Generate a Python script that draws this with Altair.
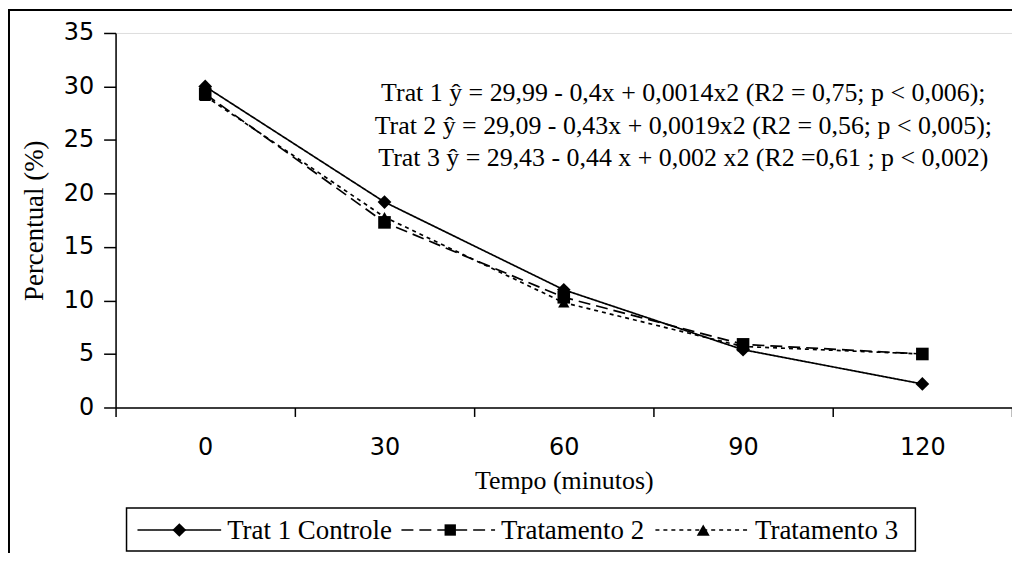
import altair as alt
import pandas as pd

# ---- data ----
tempo = [0, 30, 60, 90, 120]
series_names = ["Trat 1 Controle", "Tratamento 2", "Tratamento 3"]
trat1 = [30.0, 19.2, 11.0, 5.4, 2.2]
trat2 = [29.3, 17.3, 10.3, 5.9, 5.0]
trat3 = [29.1, 17.8, 9.8, 5.7, 5.0]
y_ticks = [0, 5, 10, 15, 20, 25, 30, 35]
x_ticks = [-15, 0, 15, 30, 45, 60, 75, 90, 105, 120, 135]
equations = [
    "Trat 1 ŷ = 29,99 - 0,4x + 0,0014x2 (R2 = 0,75; p < 0,006);",
    "Trat 2 ŷ = 29,09 - 0,43x + 0,0019x2  (R2 = 0,56; p <  0,005);",
    "Trat 3 ŷ = 29,43 - 0,44 x + 0,002 x2  (R2 =0,61 ; p < 0,002)",
]

rows = []
for name, vals in zip(series_names, [trat1, trat2, trat3]):
    for t, v in zip(tempo, vals):
        rows.append({"Tempo": t, "Percentual": v, "Serie": name})
df = pd.DataFrame(rows)

SERIF = "Liberation Serif"
SANS = "DejaVu Sans"
dashes = [[1, 0], [12, 6], [4, 4]]
shapes = ["diamond", "square", "triangle-up"]
sizes = [190, 130, 170]

x_enc = alt.X(
    "Tempo:Q",
    scale=alt.Scale(domain=[-15, 135], nice=False, zero=False),
    axis=alt.Axis(
        values=x_ticks,
        labelExpr="datum.value % 30 === 0 ? datum.label : ''",
        tickOpacity={"condition": {"test": "datum.value % 30 === 0", "value": 0}, "value": 1},
        tickSize=9,
        labelPadding=19,
        labelFont=SANS,
        labelFontSize=24,
        labelColor="black",
        domainColor="black",
        tickColor="black",
        domainWidth=1.5,
        tickWidth=1.5,
        grid=False,
        title="Tempo (minutos)",
        titleFont=SERIF,
        titleFontSize=26,
        titleFontWeight="normal",
        titleColor="black",
        titlePadding=8,
    ),
)
y_enc = alt.Y(
    "Percentual:Q",
    scale=alt.Scale(domain=[0, 35], nice=False),
    axis=alt.Axis(
        values=y_ticks,
        tickSize=12,
        labelPadding=10,
        labelFont=SANS,
        labelFontSize=24,
        labelColor="black",
        domainColor="black",
        tickColor="black",
        domainWidth=1.5,
        tickWidth=1.5,
        grid=False,
        title="Percentual  (%)",
        titleFont=SERIF,
        titleFontSize=27,
        titleFontWeight="normal",
        titleColor="black",
        titlePadding=15,
    ),
)

base = alt.Chart(df)
lines = base.mark_line(color="black", strokeWidth=1.7).encode(
    x=x_enc,
    y=y_enc,
    strokeDash=alt.StrokeDash("Serie:N", scale=alt.Scale(domain=series_names, range=dashes), legend=None),
    detail="Serie:N",
)
points = base.mark_point(filled=True, color="black", opacity=1).encode(
    x="Tempo:Q",
    y="Percentual:Q",
    shape=alt.Shape("Serie:N", scale=alt.Scale(domain=series_names, range=shapes), legend=None),
    size=alt.Size("Serie:N", scale=alt.Scale(domain=series_names, range=sizes), legend=None),
)

eq_text = alt.Chart(pd.DataFrame({"a": [0]})).mark_text(
    font=SERIF, fontSize=26, color="black", align="center", baseline="middle", lineHeight=33
).encode(x=alt.value(570), y=alt.value(60), text=alt.value(equations))

# ---- manual legend (box + line/marker/label per series) ----
one = pd.DataFrame({"a": [0]})
leg_layers = [
    alt.Chart(one).mark_rect(fill="white", stroke="black", strokeWidth=1.5).encode(
        x=alt.value(11), x2=alt.value(803), y=alt.value(477), y2=alt.value(520)
    )
]
ly = 499
entries = [(22, 106, 64, 112), (287, 381, 336, 387), (542, 636, 590, 642)]
for i, (x1, x2, xm, xt) in enumerate(entries):
    leg_layers.append(
        alt.Chart(one).mark_rule(color="black", strokeWidth=1.7, strokeDash=dashes[i]).encode(
            x=alt.value(x1), x2=alt.value(x2), y=alt.value(ly)
        )
    )
    leg_layers.append(
        alt.Chart(one).mark_point(filled=True, color="black", opacity=1, shape=shapes[i], size=sizes[i]).encode(
            x=alt.value(xm), y=alt.value(ly)
        )
    )
    leg_layers.append(
        alt.Chart(one).mark_text(font=SERIF, fontSize=27, color="black", align="left", baseline="middle").encode(
            x=alt.value(xt), y=alt.value(ly + 1), text=alt.value(series_names[i])
        )
    )

# ---- outer chart-area frame ----
frame = [
    alt.Chart(one).mark_rule(color="black", strokeWidth=2).encode(
        x=alt.value(-107), y=alt.value(-23), y2=alt.value(530)
    ),
    alt.Chart(one).mark_rule(color="black", strokeWidth=2).encode(
        x=alt.value(-108), x2=alt.value(905), y=alt.value(-23)
    ),
]

chart = alt.layer(lines, points, eq_text, *leg_layers, *frame).properties(
    width=900,
    height=376,
    autosize=alt.AutoSizeParams(type="none"),
    padding={"left": 108, "top": 24, "right": 0, "bottom": 145},
).configure_view(stroke="#8c8c8c", strokeWidth=1.2).configure(background="white")

chart.save("out.html", embed_options={"renderer": "svg", "actions": False})
